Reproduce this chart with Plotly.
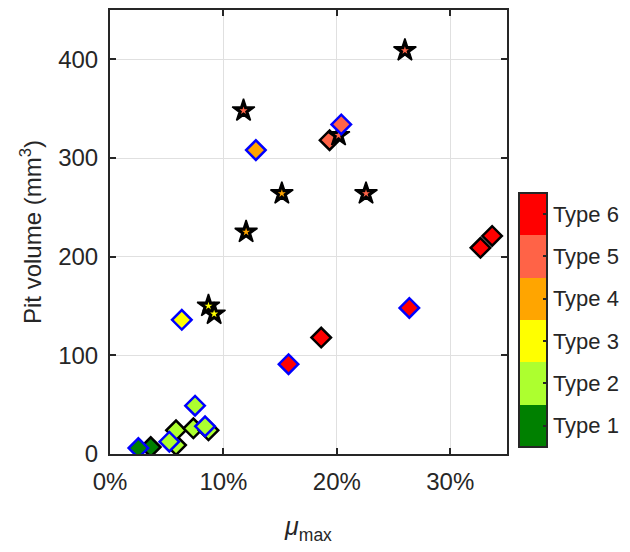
import plotly.graph_objects as go

# Pit volume vs. maximum friction coefficient, coloured by pit type
type_labels = ["Type 1", "Type 2", "Type 3", "Type 4", "Type 5", "Type 6"]
type_colors = ["#008000", "#ADFF2F", "#FFFF00", "#FFA500", "#FF6347", "#FF0000"]

# diamonds with black outline
black_mu = [0.1936, 0.3266, 0.3369, 0.1862, 0.0359, 0.0582, 0.0582, 0.0735, 0.0868]
black_vol = [318, 209, 221, 118, 7, 9, 24, 26, 24]
black_type = [5, 6, 6, 6, 1, 2, 2, 2, 2]

# diamonds with blue outline
blue_mu = [0.0523, 0.1286, 0.2039, 0.0633, 0.2639, 0.1574, 0.075, 0.0838, 0.025]
blue_vol = [12.5, 308, 334, 136, 148, 91, 49, 28, 6]
blue_type = [2, 4, 5, 3, 6, 6, 2, 2, 1]

# pentagram markers
star_mu = [0.260, 0.1177, 0.2015, 0.1515, 0.2257, 0.120, 0.0868, 0.0918]
star_vol = [409, 348, 323, 264, 264, 225, 150, 142]
star_type = [5, 5, 5, 4, 5, 4, 3, 3]

x_ticks = [0, 0.1, 0.2, 0.3]
y_ticks = [0, 100, 200, 300, 400]

# stepped colour scale, one flat band per type
n = len(type_colors)
colorscale = []
for i, c in enumerate(type_colors):
    colorscale.append([i / n, c])
    colorscale.append([(i + 1) / n, c])

INK = "#262626"
FONT = "Liberation Sans, Arial, sans-serif"

common = dict(colorscale=colorscale, cmin=0.5, cmax=6.5)

fig = go.Figure()

fig.add_trace(go.Scatter(
    x=black_mu, y=black_vol, mode="markers", showlegend=False,
    marker=dict(symbol="diamond", size=15, color=black_type,
                line=dict(color="#000000", width=2.5), **common),
))

fig.add_trace(go.Scatter(
    x=star_mu, y=star_vol, mode="markers", showlegend=False,
    marker=dict(symbol="star", size=17, color="#000000",
                line=dict(color="#000000", width=1.5)),
))
fig.add_trace(go.Scatter(
    x=star_mu, y=star_vol, mode="markers", showlegend=False,
    marker=dict(symbol="star", size=6, color=star_type,
                line=dict(width=0), **common),
))

fig.add_trace(go.Scatter(
    x=blue_mu, y=blue_vol, mode="markers", showlegend=False,
    marker=dict(symbol="diamond", size=15, color=blue_type,
                line=dict(color="#0000FF", width=2.5), showscale=True,
                colorbar=dict(
                    x=1.030, xanchor="left", xpad=0,
                    y=0.302, yanchor="middle", ypad=0,
                    lenmode="pixels", len=254,
                    thicknessmode="pixels", thickness=28,
                    outlinewidth=2, outlinecolor=INK,
                    tickmode="array", tickvals=[1, 2, 3, 4, 5, 6],
                    ticktext=type_labels,
                    ticks="inside", ticklen=5, tickwidth=1.5, tickcolor=INK,
                    tickfont=dict(family=FONT, size=22, color=INK),
                ),
                **common),
))

axis_style = dict(
    showline=True, linewidth=2, linecolor=INK, mirror="ticks",
    ticks="inside", ticklen=6, tickwidth=2, tickcolor=INK,
    showgrid=True, gridcolor="#E0E0E0", gridwidth=1, zeroline=False,
    tickfont=dict(family=FONT, size=24, color=INK), automargin=False,
)

fig.update_xaxes(
    range=[0, 0.35], tickvals=x_ticks, tickformat=".0%",
    ticklabelstandoff=5,
    title=dict(text="<i>μ</i><sub>max</sub>", standoff=24,
               font=dict(family=FONT, size=25, color=INK)),
    **axis_style,
)
fig.update_yaxes(
    range=[0, 450], tickvals=y_ticks, ticklabelstandoff=5,
    title=dict(text="Pit volume (mm<sup>3</sup>)", standoff=10,
               font=dict(family=FONT, size=24, color=INK)),
    **axis_style,
)

fig.update_layout(
    width=630, height=552,
    margin=dict(l=110, r=123, t=10, b=98, autoexpand=False),
    paper_bgcolor="white", plot_bgcolor="white",
    font=dict(family=FONT, color=INK),
)

fig.write_html("out.html")
